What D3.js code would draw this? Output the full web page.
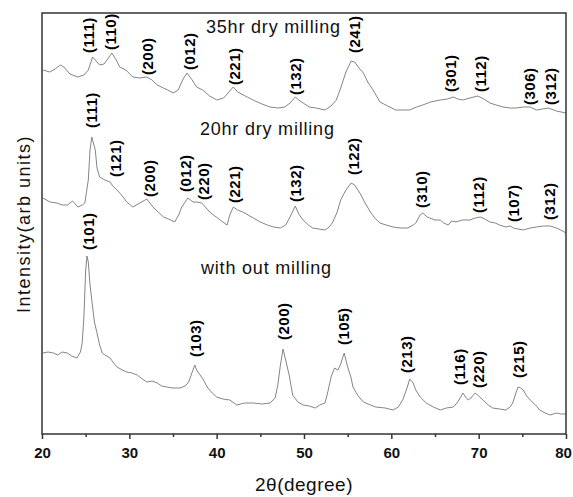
<!DOCTYPE html>
<html lang="en">
<head>
    <meta charset="UTF-8">
    <title>XRD patterns</title>
    <script src="https://d3js.org/d3.v7.min.js"></script>
    <style>
        body { margin: 0; background: #fff; }
        svg { display: block; font-family: "Liberation Sans", Arial, sans-serif; }
        .trace { fill: none; stroke: #858585; stroke-width: 1; }
        .hkl { font-size: 15px; font-weight: bold; fill: #000; letter-spacing: 0.5px; }
        .title { font-size: 18px; fill: #111; letter-spacing: 0.8px; }
        .axis path, .axis line { stroke: #333; stroke-width: 1.5; }
        .axis text { font-size: 15px; font-weight: bold; fill: #111; font-family: "Liberation Sans", Arial, sans-serif; }
    </style>
</head>
<body>
    <svg id="chart"></svg>

    <script>
        // 2theta (deg), intensity (arb units)
        var milled35 = [
            [20.1, 364], [20.9, 362], [21.5, 365], [22.1, 369], [22.5, 367], [23.2, 360], [24.1, 357],
            [24.8, 359], [25.3, 364], [25.8, 377], [26.3, 372], [26.6, 369], [27.1, 370], [27.6, 376],
            [28.0, 381], [28.5, 374], [28.9, 367], [29.6, 364], [30.4, 357], [31.2, 356], [32.0, 357],
            [32.6, 354], [33.2, 349], [33.9, 346], [34.4, 344], [35.0, 341], [35.6, 344], [36.1, 354],
            [36.6, 361], [37.2, 354], [37.7, 347], [38.4, 344], [39.2, 338], [40.0, 334], [40.8, 336],
            [41.4, 342], [41.9, 347], [42.4, 342], [43.5, 337], [44.4, 333], [45.2, 330], [46.1, 327],
            [47.0, 326], [47.8, 327], [48.4, 331], [49.0, 337], [49.4, 334], [49.9, 331], [50.6, 327],
            [51.4, 326], [52.4, 324], [53.1, 328], [53.7, 334], [54.2, 346], [54.8, 362], [55.4, 373],
            [55.8, 372], [56.3, 366], [56.8, 361], [57.3, 352], [57.9, 344], [58.7, 332], [59.6, 328],
            [60.5, 324], [61.3, 324], [62.1, 324], [62.9, 327], [63.6, 329], [64.5, 332], [65.6, 334],
            [66.4, 335], [67.1, 337], [67.6, 335], [68.2, 334], [69.0, 336], [69.9, 338], [70.6, 335],
            [71.3, 331], [72.0, 329], [72.8, 327], [73.6, 326], [74.3, 326], [75.1, 327], [75.9, 327],
            [76.6, 324], [77.3, 325], [78.0, 326], [78.9, 323], [80.0, 321]
        ];

        var milled20 = [
            [20.1, 236], [20.9, 232], [21.7, 231], [22.3, 229], [22.9, 229], [23.5, 233], [24.1, 227],
            [24.6, 229], [24.9, 231], [25.3, 254], [25.5, 284], [25.7, 297], [26.1, 284], [26.3, 266],
            [26.6, 257], [27.2, 254], [27.8, 252], [28.1, 248], [28.6, 244], [29.2, 238], [29.7, 232],
            [30.4, 227], [31.2, 231], [32.0, 235], [32.7, 227], [33.3, 222], [33.9, 217], [34.5, 215],
            [35.2, 212], [35.7, 220], [36.0, 227], [36.7, 236], [37.3, 232], [37.7, 232], [38.3, 231],
            [38.8, 226], [39.2, 222], [39.8, 218], [40.4, 214], [41.2, 209], [41.5, 219], [41.9, 227],
            [42.4, 224], [43.0, 222], [43.6, 219], [44.2, 216], [45.0, 212], [45.8, 209], [46.5, 207],
            [47.3, 206], [47.9, 209], [48.4, 217], [49.0, 228], [49.4, 220], [49.9, 214], [50.5, 209],
            [51.0, 206], [51.7, 205], [52.4, 204], [52.9, 207], [53.3, 212], [53.8, 222], [54.2, 234],
            [54.8, 244], [55.4, 251], [55.8, 249], [56.4, 241], [57.0, 231], [57.6, 222], [58.1, 216],
            [58.7, 211], [59.4, 209], [60.2, 207], [61.0, 206], [61.9, 206], [62.5, 209], [62.8, 211],
            [63.3, 219], [63.6, 221], [64.1, 217], [64.4, 216], [65.0, 214], [65.6, 214], [66.0, 211],
            [66.5, 209], [66.9, 213], [67.4, 212], [68.1, 214], [69.0, 214], [69.6, 216], [70.2, 217],
            [70.7, 215], [71.3, 212], [71.9, 211], [72.4, 209], [73.1, 207], [73.6, 208], [74.0, 206],
            [74.5, 205], [75.1, 204], [75.9, 206], [76.6, 207], [77.4, 208], [78.2, 208], [78.9, 206],
            [79.4, 204], [80.0, 201]
        ];

        var unmilled = [
            [20.1, 81], [20.7, 82], [21.3, 81], [21.8, 79], [22.3, 82], [22.9, 81], [23.4, 78],
            [24.0, 76], [24.4, 82], [24.6, 91], [24.8, 117], [25.0, 164], [25.15, 178], [25.3, 172],
            [25.5, 149], [25.7, 134], [26.0, 112], [26.3, 101], [26.6, 89], [26.9, 81], [27.2, 79],
            [27.8, 76], [28.2, 71], [28.6, 67], [29.2, 64], [29.7, 62], [30.3, 61], [30.9, 59],
            [31.5, 55], [32.0, 52], [32.6, 53], [33.2, 51], [33.7, 48], [34.3, 47], [35.0, 46],
            [35.8, 46], [36.4, 48], [36.8, 52], [37.2, 62], [37.5, 69], [37.7, 64], [38.1, 59],
            [38.5, 54], [38.9, 47], [39.5, 41], [40.0, 37], [40.7, 35], [41.5, 34], [42.3, 29],
            [43.2, 31], [44.2, 31], [45.2, 30], [46.1, 31], [46.7, 36], [47.0, 49], [47.3, 69],
            [47.6, 85], [47.9, 74], [48.3, 59], [48.7, 39], [49.3, 32], [49.9, 29], [50.6, 28],
            [51.3, 26], [51.8, 29], [52.4, 31], [52.7, 41], [53.1, 57], [53.5, 66], [53.9, 64],
            [54.2, 70], [54.6, 81], [54.8, 74], [55.0, 67], [55.4, 56], [55.6, 47], [56.2, 38],
            [56.8, 32], [57.6, 29], [58.2, 27], [59.3, 26], [60.2, 24], [60.8, 27], [61.3, 34],
            [61.8, 46], [62.1, 55], [62.5, 51], [62.8, 44], [63.3, 37], [64.0, 31], [64.8, 27],
            [65.6, 24], [66.3, 26], [67.1, 27], [67.6, 32], [68.2, 41], [68.5, 37], [68.8, 34],
            [69.1, 36], [69.6, 41], [70.0, 38], [70.5, 34], [71.1, 29], [71.6, 26], [72.4, 25],
            [73.1, 24], [73.6, 27], [73.9, 31], [74.3, 42], [74.5, 47], [74.8, 46], [75.1, 44],
            [75.5, 38], [75.9, 34], [76.5, 29], [77.0, 24], [77.6, 21], [78.2, 19], [78.9, 21],
            [79.4, 20], [80.0, 20]
        ];

        // reflection labels: hkl, 2theta, intensity level where the label starts
        var peaks35 = [
            ["(111)", 25.4, 381], ["(110)", 27.9, 384], ["(200)", 32.1, 359], ["(012)", 36.9, 364],
            ["(221)", 42.1, 349], ["(132)", 49.1, 339], ["(241)", 55.8, 381], ["(301)", 66.8, 342],
            ["(112)", 70.3, 342], ["(306)", 75.9, 329], ["(312)", 78.3, 329]
        ];
        var peaks20 = [
            ["(111)", 25.7, 306], ["(121)", 28.5, 257], ["(200)", 32.4, 237], ["(012)", 36.5, 242],
            ["(220)", 38.6, 234], ["(221)", 42.1, 231], ["(132)", 49.1, 232], ["(122)", 55.7, 259],
            ["(310)", 63.5, 226], ["(112)", 70.0, 221], ["(107)", 74.0, 212], ["(312)", 78.2, 214]
        ];
        var peaks0 = [
            ["(101)", 25.4, 184], ["(103)", 37.6, 77], ["(200)", 47.7, 94], ["(105)", 54.6, 89],
            ["(213)", 61.8, 61], ["(116)", 67.9, 49], ["(220)", 70.0, 46], ["(215)", 74.6, 56]
        ];

        // curve names: text, 2theta of centre, intensity of baseline
        var curveNames = [
            ["35hr dry milling", 46.5, 401],
            ["20hr dry milling", 45.8, 299],
            ["with out milling", 45.7, 160]
        ];

        var xTicks = [20, 30, 40, 50, 60, 70, 80];
        var xMinorTicks = [25, 35, 45, 55, 65, 75];

        var W = 573, H = 497;
        var margin = { top: 13, right: 7, bottom: 63, left: 42 };
        var width = W - margin.left - margin.right;
        var height = H - margin.top - margin.bottom;

        var svg = d3.select('#chart')
            .attr('width', W)
            .attr('height', H)
            .append('g')
            .attr('transform', 'translate(' + margin.left + ',' + margin.top + ')');

        var x = d3.scaleLinear().domain([20, 80]).range([0, width]);
        var y = d3.scaleLinear().domain([0, height]).range([height, 0]);

        var line = d3.line()
            .x(d => x(d[0]))
            .y(d => y(d[1]));

        [milled35, milled20, unmilled].forEach(function (s) {
            svg.append('path')
                .datum(s)
                .attr('class', 'trace')
                .attr('d', line);
        });

        // hkl labels, rotated
        [peaks35, peaks20, peaks0].forEach(function (p) {
            svg.selectAll(null)
                .data(p)
                .enter()
                .append('text')
                .attr('class', 'hkl')
                .attr('transform', d => 'translate(' + (x(d[1]) + 5) + ',' + y(d[2]) + ') rotate(-90)')
                .text(d => d[0]);
        });

        svg.selectAll('.title')
            .data(curveNames)
            .enter()
            .append('text')
            .attr('class', 'title')
            .attr('x', d => x(d[1]))
            .attr('y', d => y(d[2]))
            .style('text-anchor', 'middle')
            .text(d => d[0]);

        // frame
        svg.append('rect')
            .attr('width', width)
            .attr('height', height)
            .attr('fill', 'none')
            .attr('stroke', '#333')
            .attr('stroke-width', 1.5);

        var xAxis = svg.append('g')
            .attr('class', 'axis')
            .attr('transform', 'translate(0,' + height + ')')
            .call(d3.axisBottom(x).tickValues(xTicks).tickSize(5).tickPadding(8).tickSizeOuter(0))
            .call(g => g.select('.domain').remove());

        // last label sits on the page edge, pull it in a bit
        xAxis.selectAll('.tick text')
            .filter(d => d === 80)
            .attr('dx', '-3px');

        svg.append('g')
            .attr('class', 'axis')
            .attr('transform', 'translate(0,' + height + ')')
            .call(d3.axisBottom(x).tickValues(xMinorTicks).tickSize(3).tickFormat('').tickSizeOuter(0))
            .call(g => g.select('.domain').remove());

        svg.append('text')
            .attr('x', width / 2)
            .attr('y', height + 57)
            .style('text-anchor', 'middle')
            .style('font-size', '19px')
            .style('letter-spacing', '0.5px')
            .attr('fill', '#111')
            .text('2θ(degree)');

        svg.append('text')
            .attr('transform', 'rotate(-90)')
            .attr('x', -211)
            .attr('y', -12)
            .style('text-anchor', 'middle')
            .style('font-size', '18px')
            .style('letter-spacing', '1.5px')
            .attr('fill', '#111')
            .text('Intensity(arb units)');
    </script>
</body>
</html>
